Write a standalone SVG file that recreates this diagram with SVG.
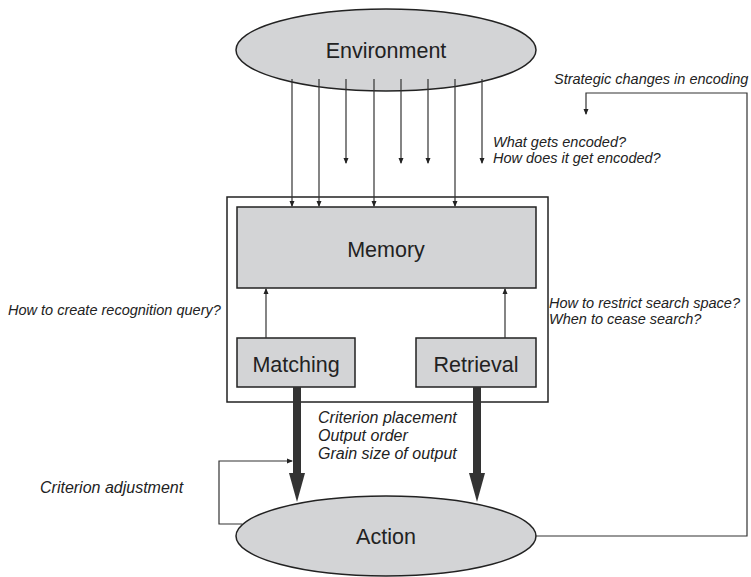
<svg xmlns="http://www.w3.org/2000/svg" width="751" height="577" viewBox="0 0 751 577">
<defs>
<style>
.node{fill:#d3d4d6;stroke:#222;stroke-width:1.5}
.lbl{font-family:"Liberation Sans",Arial,sans-serif;font-size:21.5px;fill:#222;text-anchor:middle}
.note{font-family:"Liberation Sans",Arial,sans-serif;font-size:14.5px;font-style:italic;fill:#222}
.big{font-size:16px}
.thin{fill:none;stroke:#333;stroke-width:1.2}
.thick{fill:none;stroke:#333;stroke-width:8}
</style>
<marker id="ah" markerWidth="6" markerHeight="6" refX="5" refY="3" orient="auto" markerUnits="userSpaceOnUse">
<path d="M0,0.5 L6,3 L0,5.5 z" fill="#222"/>
</marker>
</defs>
<rect x="0" y="0" width="751" height="577" fill="#fff"/>
<g id="box"><rect x="227" y="197" width="321" height="205" fill="none" stroke="#222" stroke-width="1.5"/></g>
<g id="environment"><ellipse class="node" cx="386" cy="50" rx="150" ry="41"/><text class="lbl" x="386" y="58">Environment</text></g>
<g id="memory"><rect class="node" x="237" y="207" width="299" height="81"/><text class="lbl" x="386" y="257">Memory</text></g>
<g id="matching"><rect class="node" x="237" y="338" width="118" height="49"/><text class="lbl" x="296" y="372">Matching</text></g>
<g id="retrieval"><rect class="node" x="416" y="338" width="120" height="49"/><text class="lbl" x="476" y="372">Retrieval</text></g>
<g id="action"><ellipse class="node" cx="386" cy="536" rx="150" ry="40"/><text class="lbl" x="386" y="544">Action</text></g>
<g id="connectors">
<path class="thin" d="M292,79 V206" marker-end="url(#ah)"/>
<path class="thin" d="M319,79 V206" marker-end="url(#ah)"/>
<path class="thin" d="M346,79 V163" marker-end="url(#ah)"/>
<path class="thin" d="M374,79 V206" marker-end="url(#ah)"/>
<path class="thin" d="M401,79 V163" marker-end="url(#ah)"/>
<path class="thin" d="M428,79 V163" marker-end="url(#ah)"/>
<path class="thin" d="M455,79 V206" marker-end="url(#ah)"/>
<path class="thin" d="M482,79 V163" marker-end="url(#ah)"/>
<path class="thin" d="M266,338 V289" marker-end="url(#ah)"/>
<path class="thin" d="M505,338 V289" marker-end="url(#ah)"/>
<path class="thick" d="M297,387 V474"/>
<path d="M289,473 L305,473 L297,502 z" fill="#333"/>
<path class="thick" d="M477,387 V474"/>
<path d="M469,473 L485,473 L477,502 z" fill="#333"/>
<path class="thin" d="M242,524 H219 V461 H292" marker-end="url(#ah)"/>
<path class="thin" d="M535,536 H747 V93 H586 V114" marker-end="url(#ah)"/>
</g>
<g id="notes">
<text class="note" x="554" y="84">Strategic changes in encoding</text>
<text class="note" x="493" y="147" font-size="12">What gets encoded?</text>
<text class="note" x="493" y="163" font-size="12">How does it get encoded?</text>
<text class="note" x="8" y="315">How to create recognition query?</text>
<text class="note" x="549" y="308">How to restrict search space?</text>
<text class="note" x="549" y="324">When to cease search?</text>
<text class="note big" x="318" y="423">Criterion placement</text>
<text class="note big" x="318" y="441">Output order</text>
<text class="note big" x="318" y="459">Grain size of output</text>
<text class="note big" x="40" y="493" font-size="16.5">Criterion adjustment</text>
</g>
</svg>
